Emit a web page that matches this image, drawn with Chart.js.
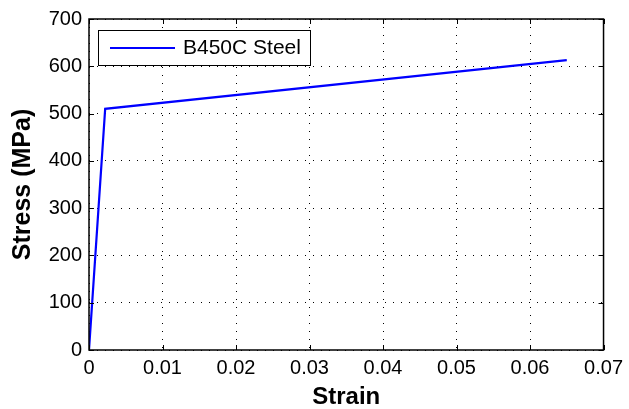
<!DOCTYPE html>
<html>
<head>
<meta charset="utf-8">
<script src="https://cdn.jsdelivr.net/npm/chart.js@4"></script>
<style>
  html, body { margin: 0; padding: 0; background: #fff; }
  #wrap { width: 629px; height: 409px; }
</style>
</head>
<body>
<div id="wrap"><canvas id="stressChart"></canvas></div>
<script>
// data
const seriesName = "B450C Steel";
const strain = [0, 0.0022, 0.065];
const stress = [0, 510, 613];
const xTicks = [0, 0.01, 0.02, 0.03, 0.04, 0.05, 0.06, 0.07];
const yTicks = [0, 100, 200, 300, 400, 500, 600, 700];

const FONT = "'Liberation Sans', Arial, Helvetica, sans-serif";

/* box, inward ticks on all sides, legend inside top-left */
const matlabFrame = {
  id: "matlabFrame",
  afterDraw(chart) {
    const { ctx, chartArea: a, scales } = chart;
    const len = 5;
    ctx.save();
    ctx.strokeStyle = "#000";
    ctx.lineWidth = 1;
    xTicks.forEach(v => {
      const x = Math.round(scales.x.getPixelForValue(v)) + 0.5;
      ctx.beginPath();
      ctx.moveTo(x, a.bottom); ctx.lineTo(x, a.bottom - len);
      ctx.moveTo(x, a.top); ctx.lineTo(x, a.top + len);
      ctx.stroke();
    });
    yTicks.forEach(v => {
      const y = Math.round(scales.y.getPixelForValue(v)) + 0.5;
      ctx.beginPath();
      ctx.moveTo(a.left, y); ctx.lineTo(a.left + len, y);
      ctx.moveTo(a.right, y); ctx.lineTo(a.right - len, y);
      ctx.stroke();
    });
    ctx.lineWidth = 1.5;
    ctx.strokeRect(a.left, a.top, a.right - a.left, a.bottom - a.top);

    // legend
    const ds = chart.data.datasets[0];
    const lx = 98, ly = 30, lw = 212, lh = 35;
    ctx.fillStyle = "#fff";
    ctx.fillRect(lx, ly, lw, lh);
    ctx.lineWidth = 1;
    ctx.strokeRect(lx + 0.5, ly + 0.5, lw, lh);
    ctx.strokeStyle = ds.borderColor;
    ctx.lineWidth = 2;
    ctx.beginPath();
    ctx.moveTo(110, ly + lh / 2 + 0.5);
    ctx.lineTo(175, ly + lh / 2 + 0.5);
    ctx.stroke();
    ctx.fillStyle = "#000";
    ctx.font = "21px " + FONT;
    ctx.textBaseline = "middle";
    ctx.fillText(ds.label, 183, ly + lh / 2 + 1);
    ctx.restore();
  }
};

const ctx1 = document.getElementById("stressChart")?.getContext("2d");

if (ctx1) {
  new Chart(ctx1, {
    type: "scatter",
    data: {
      datasets: [{
        label: seriesName,
        data: strain.map((x, i) => ({ x: x, y: stress[i] })),
        showLine: true,
        borderColor: "#0000ff",
        borderWidth: 2.2,
        pointRadius: 0,
        tension: 0
      }]
    },
    options: {
      responsive: true,
      maintainAspectRatio: false,
      animation: false,
      layout: { padding: { top: 19, right: 21, left: 0, bottom: 0 } },
      plugins: { legend: { display: false }, tooltip: { enabled: false } },
      scales: {
        x: {
          type: "linear",
          min: 0, max: 0.07,
          afterBuildTicks: s => { s.ticks = xTicks.map(v => ({ value: v })); },
          afterFit: s => { s.height = 59; },
          ticks: {
            color: "#000",
            font: { family: FONT, size: 20 },
            padding: 6,
            maxRotation: 0,
            callback: v => String(v)
          },
          grid: { color: "#000", lineWidth: 1, drawTicks: false, tickLength: 0 },
          border: { display: false, dash: [1, 7] },
          title: {
            display: true,
            text: "Strain",
            color: "#000",
            font: { family: FONT, size: 24, weight: "bold" },
            padding: { top: 0, bottom: -3 }
          }
        },
        y: {
          min: 0, max: 700,
          afterBuildTicks: s => { s.ticks = yTicks.map(v => ({ value: v })); },
          afterFit: s => { s.width = 89; },
          ticks: {
            color: "#000",
            font: { family: FONT, size: 20 },
            padding: 7,
            callback: v => String(v)
          },
          grid: { color: "#000", lineWidth: 1, drawTicks: false, tickLength: 0 },
          border: { display: false, dash: [1, 7] },
          title: {
            display: true,
            text: "Stress (MPa)",
            color: "#000",
            font: { family: FONT, size: 25, weight: "bold" },
            padding: { top: 8, bottom: 0 }
          }
        }
      }
    },
    plugins: [matlabFrame]
  });
}
</script>
</body>
</html>
